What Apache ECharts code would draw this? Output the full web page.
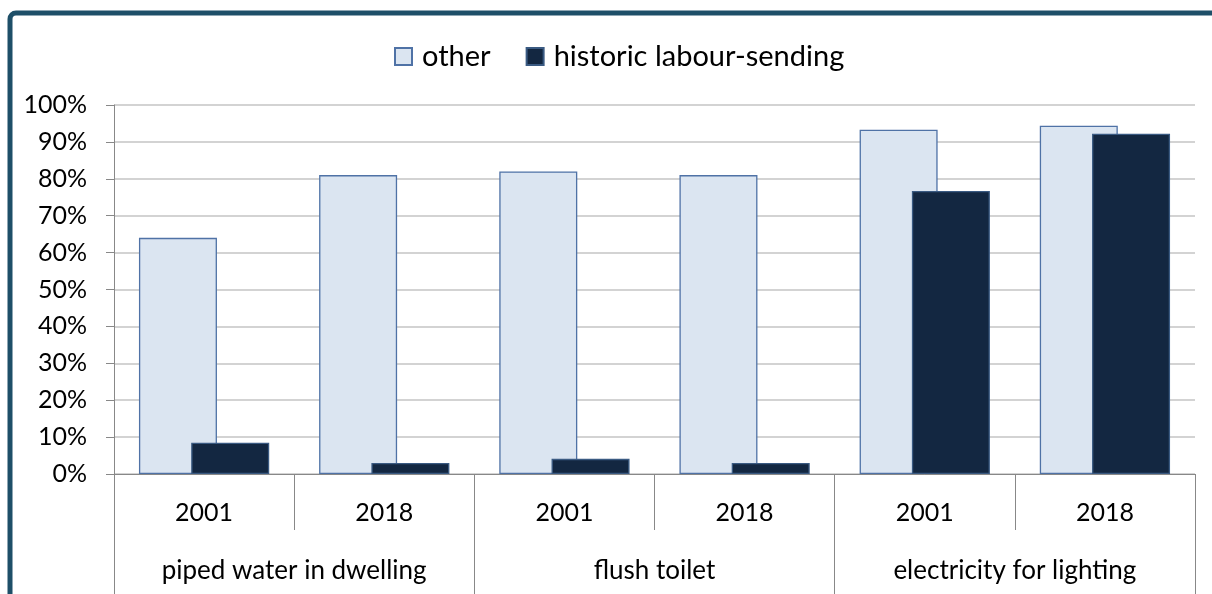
<!DOCTYPE html>
<html>
<head>
<meta charset="utf-8">
<script src="https://cdn.jsdelivr.net/npm/echarts@6/dist/echarts.min.js"></script>
<style>
html,body{margin:0;padding:0;background:#fff;}
#chart{width:1212px;height:594px;}
</style>
</head>
<body>
<div id="chart"></div>
<script>
const years = ['2001', '2018', '2001', '2018', '2001', '2018'];
const groups = ['piped water in dwelling', 'flush toilet', 'electricity for lighting'];
const seriesNames = ['other', 'historic labour-sending'];
const otherValues = [64, 81, 82, 81, 93.3, 94.4];
const historicValues = [8.5, 3, 4.1, 3, 76.7, 92.2];
const yTicks = [0, 10, 20, 30, 40, 50, 60, 70, 80, 90, 100];

const FONT = 'Lato';
const chart = echarts.init(document.getElementById('chart'));
const gridLine = '#888888';
chart.setOption({
  backgroundColor: '#ffffff',
  animation: false,
  textStyle: { fontFamily: FONT },
  graphic: [{
    type: 'rect',
    shape: { x: 10, y: 13, width: 1260, height: 640, r: 6 },
    style: { fill: 'none', stroke: '#1e4f68', lineWidth: 5 },
    z: 100
  }],
  legend: {
    top: 37,
    left: 389,
    itemWidth: 17,
    itemHeight: 17,
    itemGap: 35,
    icon: 'rect',
    textStyle: { fontFamily: FONT, fontSize: 29, color: '#000', padding: [0, 0, 0, 5] },
    data: seriesNames
  },
  grid: { left: 114, right: 17, top: 105, bottom: 120, containLabel: false },
  xAxis: [{
    type: 'category',
    data: years,
    gridIndex: 0,
    position: 'bottom',
    axisLine: { show: true, lineStyle: { color: gridLine, width: 1 } },
    axisTick: { show: true, length: 56, interval: 0, lineStyle: { color: gridLine } },
    axisLabel: { fontFamily: FONT, fontSize: 25, color: '#000', margin: 26, interval: 0 }
  }, {
    type: 'category',
    data: groups,
    gridIndex: 0,
    position: 'bottom',
    axisLine: { show: false },
    axisTick: { show: true, length: 130, interval: 0, lineStyle: { color: gridLine } },
    axisLabel: { fontFamily: FONT, fontSize: 26, color: '#000', margin: 84, interval: 0 }
  }],
  yAxis: {
    type: 'value',
    min: yTicks[0],
    max: yTicks[yTicks.length - 1],
    interval: 10,
    axisLine: { show: true, lineStyle: { color: gridLine } },
    axisTick: { show: true, length: 8, lineStyle: { color: gridLine } },
    axisLabel: { fontFamily: FONT, fontSize: 25, color: '#000', margin: 27, formatter: '{value}%' },
    splitLine: { show: true, lineStyle: { color: '#c4c4c4', width: 1.5 } }
  },
  series: [{
    name: seriesNames[0],
    type: 'bar',
    xAxisIndex: 0,
    data: otherValues,
    barWidth: 78,
    barGap: '-33%',
    itemStyle: { color: '#dbe5f1', borderColor: '#4f72a6', borderWidth: 1.3 }
  }, {
    name: seriesNames[1],
    type: 'bar',
    xAxisIndex: 0,
    data: historicValues,
    barWidth: 78,
    barGap: '-33%',
    itemStyle: { color: '#132741', borderColor: '#3a5a82', borderWidth: 1.3 }
  }]
});
</script>
</body>
</html>
